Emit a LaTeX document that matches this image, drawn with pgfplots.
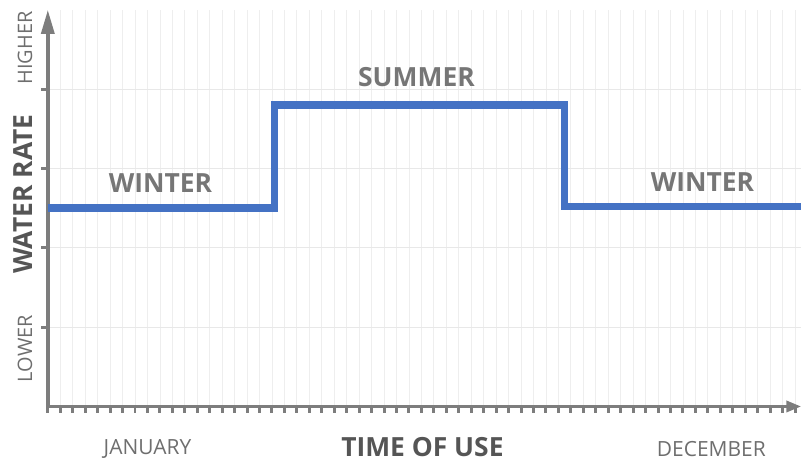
\documentclass[border=0pt]{standalone}
\usepackage{pgfplots}
\pgfplotsset{compat=1.18}
\usepackage{fontspec}
\setmainfont{Open Sans}
\usetikzlibrary{arrows.meta,calc}
\definecolor{axisgray}{RGB}{125,125,125}
\definecolor{lblgray}{RGB}{110,110,110}
\definecolor{boldgray}{RGB}{85,85,85}
\definecolor{seasongray}{RGB}{118,118,118}
\definecolor{rateblue}{RGB}{68,114,196}
\begin{document}
\begin{tikzpicture}
\begin{axis}[
  scale only axis,
  width=756.25pt, height=398pt,
  xmin=0, xmax=60.5, ymin=0, ymax=5,
  axis lines=left,
  axis line style={draw=axisgray, line width=3.5pt},
  x axis line style={-{Triangle[length=15pt,width=11pt]}},
  y axis line style={-{Triangle[length=24pt,width=13pt]}},
  xtick={0,1,...,60},
  ytick={1,2,3,4},
  xticklabels={}, yticklabels={},
  tick align=outside,
  major tick length=6.5pt,
  tick style={draw=axisgray, line width=3pt},
  grid=major,
  x grid style={draw=gray!13, line width=0.8pt},
  y grid style={draw=gray!18, line width=1pt},
  clip=false,
]
\addplot[draw=rateblue, line width=7.5pt, line join=miter, line cap=butt] coordinates {
  (0,2.5) (18.2,2.5) (18.2,3.8) (41.5,3.8) (41.5,2.52) (60.5,2.52)
};
\node[font=\fontsize{26.5}{26.5}\selectfont\bfseries, text=seasongray] at (axis cs:9.04,2.814) {WINTER};
\node[font=\fontsize{26.5}{26.5}\selectfont\bfseries, text=seasongray] at (axis cs:29.6,4.16) {SUMMER};
\node[font=\fontsize{26.5}{26.5}\selectfont\bfseries, text=seasongray] at (axis cs:52.56,2.83) {WINTER};
\node[font=\fontsize{20}{20}\selectfont, text=lblgray, rotate=90] at (axis cs:-1.84,4.52) {HIGHER};
\node[font=\fontsize{26.5}{26.5}\selectfont\bfseries, text=boldgray, rotate=90] at (axis cs:-2.0,2.68) {WATER RATE};
\node[font=\fontsize{20}{20}\selectfont, text=lblgray, rotate=90] at (axis cs:-1.84,0.73) {LOWER};
\node[font=\fontsize{21}{21}\selectfont, text=lblgray] at (axis cs:8,-0.54) {JANUARY};
\node[font=\fontsize{26.5}{26.5}\selectfont\bfseries, text=boldgray] at (axis cs:30.08,-0.515) {TIME OF USE};
\node[font=\fontsize{21}{21}\selectfont, text=lblgray] at (axis cs:53.28,-0.54) {DECEMBER};
\end{axis}
\path[use as bounding box] ($(current axis.south west)+(-48pt,-57pt)$) rectangle ($(current axis.north east)+(0.75pt,10pt)$);
\end{tikzpicture}
\end{document}
